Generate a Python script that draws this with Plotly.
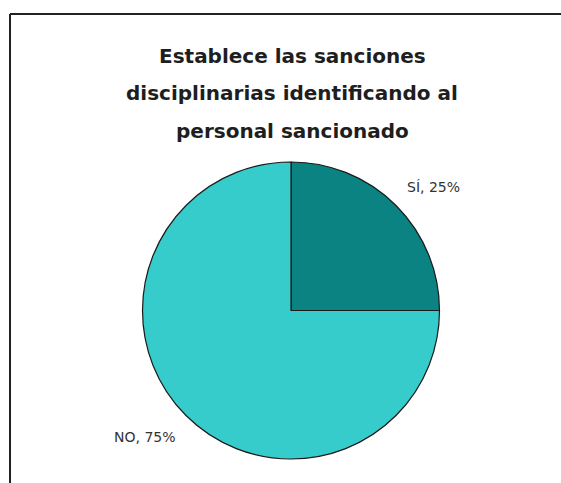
import plotly.graph_objects as go

# Chart data
categories = ["SÍ", "NO"]
percentages = [25, 75]
slice_colors = ["#0B8383", "#36CCCC"]
title_lines = [
    "Establece las sanciones",
    "disciplinarias identificando al",
    "personal sancionado",
]

W, H = 561, 483


def px(x):
    return x / W


def py(y):
    return 1 - y / H


fig = go.Figure(
    go.Pie(
        labels=categories,
        values=percentages,
        sort=False,
        direction="clockwise",
        rotation=0,
        marker=dict(colors=slice_colors, line=dict(color="#1a1a1a", width=1.2)),
        textinfo="none",
        hoverinfo="label+percent",
        showlegend=False,
        domain=dict(x=[px(142), px(440)], y=[py(459), py(162)]),
    )
)

annotations = []
# Title, one annotation per line for the wide line spacing
for i, line in enumerate(title_lines):
    annotations.append(
        dict(
            text=line,
            x=px(292), y=py(56 + 37.5 * i),
            xref="paper", yref="paper",
            xanchor="center", yanchor="middle",
            showarrow=False,
            font=dict(family="DejaVu Sans", size=20, color="#1e1e1e", weight=600),
        )
    )

# Category labels placed beside their slices
label_pos = [(433, 187), (145, 437)]
for cat, val, (lx, ly) in zip(categories, percentages, label_pos):
    annotations.append(
        dict(
            text=f"{cat}, {val}%",
            x=px(lx), y=py(ly),
            xref="paper", yref="paper",
            xanchor="center", yanchor="middle",
            showarrow=False,
            font=dict(family="DejaVu Sans", size=14, color="#333333"),
        )
    )

# Frame around the chart (top and left edges)
shapes = [
    dict(type="line", xref="paper", yref="paper",
         x0=px(10), y0=0, x1=px(10), y1=py(14),
         line=dict(color="#222222", width=2)),
    dict(type="line", xref="paper", yref="paper",
         x0=px(10), y0=py(14), x1=1, y1=py(14),
         line=dict(color="#222222", width=2)),
]

fig.update_layout(
    width=W, height=H,
    margin=dict(l=0, r=0, t=0, b=0),
    paper_bgcolor="white",
    plot_bgcolor="white",
    annotations=annotations,
    shapes=shapes,
)

fig.write_html("out.html")
